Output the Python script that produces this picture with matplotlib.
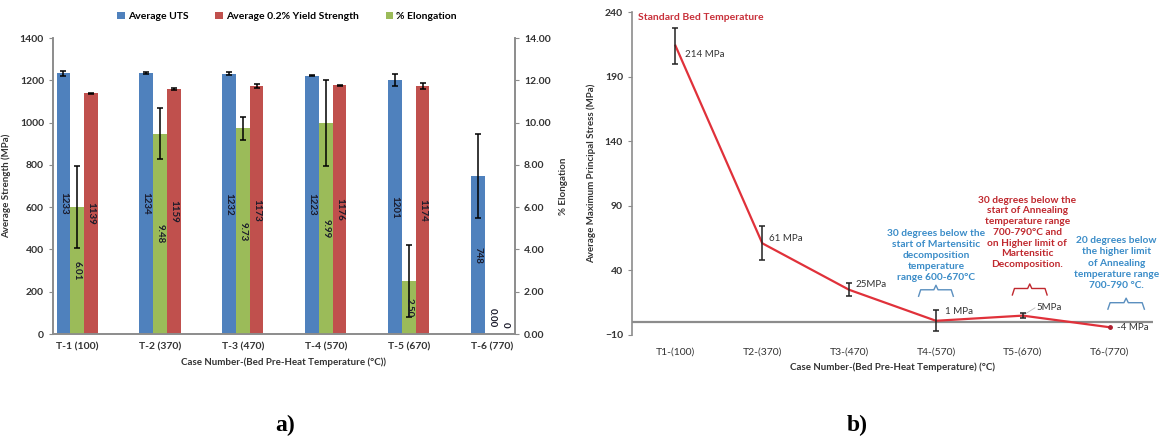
import matplotlib.pyplot as plt
import numpy as np
from matplotlib.ticker import FormatStrFormatter

plt.rcParams['font.family'] = ['Lato', 'DejaVu Sans']

# ---- data, panel a ----
cases_a = ['T-1 (100)', 'T-2 (370)', 'T-3 (470)', 'T-4 (570)', 'T-5 (670)', 'T-6 (770)']
uts = [1233, 1234, 1232, 1223, 1201, 748]
uts_err = [12, 5, 8, 4, 28, 198]
yield_str = [1139, 1159, 1173, 1176, 1174, 0]
yield_err = [3, 5, 8, 4, 15, 0]
elong = [6.01, 9.48, 9.73, 9.99, 2.50, 0.00]
elong_err = [1.95, 1.2, 0.55, 2.05, 1.7, 0]

# ---- data, panel b ----
cases_b = ['T1-(100)', 'T2-(370)', 'T3-(470)', 'T4-(570)', 'T5-(670)', 'T6-(770)']
stress = [214, 61, 25, 1, 5, -4]
stress_err = [14, 13, 5, 8, 2, 0]
stress_labels = ['214 MPa', '61 MPa', '25MPa', '1 MPa', '5MPa', '-4 MPa']

BLUE = '#4F81BD'
RED = '#C0504D'
GREEN = '#9BBB59'
GRAY = '#8C8C8C'
TXT = '#333333'

fig = plt.figure(figsize=(11.62, 4.43), dpi=100)

# ================= panel a =================
ax1 = fig.add_axes([0.0456, 0.246, 0.3976, 0.668])
ax2 = ax1.twinx()
x = np.arange(len(cases_a))
w = 0.165

b1 = ax1.bar(x - w, uts, w, color=BLUE, label='Average UTS', zorder=2)
b3 = ax1.bar(x + w, yield_str, w, color=RED, label='Average 0.2% Yield Strength', zorder=2)
b2 = ax2.bar(x, elong, w, color=GREEN, label='% Elongation', zorder=2)

ekw = dict(fmt='none', ecolor='black', elinewidth=1.1, capsize=2, capthick=1.1, zorder=3)
ax1.errorbar(x - w, uts, yerr=uts_err, **ekw)
ax1.errorbar((x + w)[:5], yield_str[:5], yerr=yield_err[:5], **ekw)
ax2.errorbar(x[:5], elong[:5], yerr=elong_err[:5], **ekw)

# data labels inside bars, rotated 270
lkw = dict(rotation=270, ha='center', fontsize=7, color='#1a1a2a', fontweight='bold', zorder=4)
for i in range(len(x)):
    ax1.text(x[i] - w, uts[i] / 2, str(uts[i]), va='center', **lkw)
    if yield_str[i] > 0:
        ax1.text(x[i] + w, yield_str[i] / 2, str(yield_str[i]), va='center', **lkw)
    else:
        ax1.text(x[i] + w, 30, str(yield_str[i]), va='bottom', **lkw)
    if elong[i] > 0:
        ax2.text(x[i], elong[i] / 2, '%.2f' % elong[i], va='center', **lkw)
    else:
        ax2.text(x[i], 0.3, '%.2f' % elong[i], va='bottom', **lkw)

ax1.set_xlim(-0.29, 5.28)
ax1.set_ylim(0, 1400)
ax1.set_yticks(np.arange(0, 1401, 200))
ax2.set_ylim(0, 14)
ax2.set_yticks(np.arange(0, 14.1, 2))
ax2.yaxis.set_major_formatter(FormatStrFormatter('%.2f'))
ax1.set_xticks(x)
ax1.set_xticklabels(cases_a, fontsize=7.5, fontweight='bold', color=TXT)
for a in (ax1, ax2):
    a.spines['top'].set_visible(False)
    for s in ('left', 'right', 'bottom'):
        a.spines[s].set_color(GRAY)
        a.spines[s].set_linewidth(1.2)
    a.tick_params(axis='y', direction='out', length=3, color=GRAY, labelsize=7.5, labelcolor=TXT)
    for lab in a.get_yticklabels():
        lab.set_fontweight('bold')
ax1.tick_params(axis='x', length=0, pad=6)
ax1.set_ylabel('Average Strength (MPa)', fontsize=7, fontweight='bold', color=TXT, labelpad=6)
ax2.set_ylabel('% Elongation', fontsize=7, fontweight='bold', color=TXT, labelpad=6)
ax1.set_xlabel('Case Number-(Bed Pre-Heat Temperature (°C))', fontsize=7, fontweight='bold',
               color=TXT, labelpad=4)

fig.legend(handles=[b1, b3, b2], loc='center', bbox_to_anchor=(0.247, 0.962), ncol=3,
           frameon=False, handlelength=0.7, handleheight=0.7, handletextpad=0.3,
           columnspacing=2.6, prop={'size': 7.5, 'weight': 'bold'})

# ================= panel b =================
axb = fig.add_axes([0.5439, 0.2438, 0.4484, 0.729])
xb = np.arange(len(cases_b))
axb.axhline(0, color=GRAY, lw=1.6, zorder=1)
axb.plot(xb, stress, color='#E0313A', lw=1.6, zorder=2)
axb.plot(xb[-1], stress[-1], 'o', color='#B02030', ms=2.5, zorder=3)
axb.errorbar(xb[:5], stress[:5], yerr=stress_err[:5], fmt='none', ecolor='#222222',
             elinewidth=1.1, capsize=2, capthick=1.1, zorder=3)

lab_dx = [0.11, 0.08, 0.07, 0.1, 0.16, 0.09]
lab_y = [207, 65, 29, 8, 11, -4]
for i in range(len(xb)):
    axb.text(xb[i] + lab_dx[i], lab_y[i], stress_labels[i], fontsize=7, color=TXT,
             ha='left', va='center')
axb.plot([xb[4] + 0.02, xb[4] + 0.14], [stress[4] + 1, lab_y[4]], color='#bbbbbb', lw=0.6)

axb.text(-0.43, 235.5, 'Standard Bed Temperature', fontsize=7.5, fontweight='bold',
         color='#C8303A', ha='left', va='center')

BLUE_T = '#3A8CC8'
RED_T = '#C0282E'
axb.text(3.0, 31, '30 degrees below the\nstart of Martensitic\ndecomposition\ntemperature\nrange 600-670°C',
         fontsize=7.3, fontweight='bold', color=BLUE_T, ha='center', va='bottom', linespacing=1.3)
axb.text(4.05, 41, '30 degrees below the\nstart of Annealing\ntemperature range\n700-790°C and\non Higher limit of\nMartensitic\nDecomposition.',
         fontsize=7.3, fontweight='bold', color=RED_T, ha='center', va='bottom', linespacing=1.25)
axb.text(5.08, 25, '20 degrees below\nthe higher limit\nof Annealing\ntemperature range\n700-790 °C.',
         fontsize=7.3, fontweight='bold', color=BLUE_T, ha='center', va='bottom', linespacing=1.3)


def brace(ax, xc, hw, y, h, color):
    e = hw * 0.12
    xs = [xc - hw, xc - hw + e, xc - e, xc, xc + e, xc + hw - e, xc + hw]
    ys = [y - h, y, y, y + h * 0.7, y, y, y - h]
    ax.plot(xs, ys, color=color, lw=1.0, solid_joinstyle='round')


brace(axb, 3.0, 0.2, 25, 5, '#5A8FBF')
brace(axb, 4.08, 0.2, 26, 5, RED_T)
brace(axb, 5.19, 0.21, 15, 5, '#5A8FBF')

axb.set_xlim(-0.5, 5.5)
axb.set_ylim(-10, 240)
axb.set_yticks(np.arange(-10, 241, 50))
axb.set_xticks(xb)
axb.set_xticklabels(cases_b, fontsize=7.5, color=TXT)
for s in ('top', 'right', 'bottom'):
    axb.spines[s].set_visible(False)
axb.spines['left'].set_color(GRAY)
axb.spines['left'].set_linewidth(1.2)
axb.tick_params(axis='x', length=0, pad=9)
axb.tick_params(axis='y', direction='out', length=3, color=GRAY, labelsize=7.5, labelcolor=TXT)
for lab in axb.get_yticklabels():
    lab.set_fontweight('bold')
axb.set_ylabel('Average Maximum Principal Stress (MPa)', fontsize=7, fontweight='bold',
               color=TXT, labelpad=6)
axb.set_xlabel('Case Number-(Bed Pre-Heat Temperature) (°C)', fontsize=7, fontweight='bold',
               color=TXT, labelpad=4)

# panel letters
fig.text(0.245, 0.04, 'a)', fontsize=17, fontweight='bold', family='Liberation Serif',
         ha='center', va='center')
fig.text(0.738, 0.04, 'b)', fontsize=17, fontweight='bold', family='Liberation Serif',
         ha='center', va='center')

fig.savefig('out.png', dpi=100)
